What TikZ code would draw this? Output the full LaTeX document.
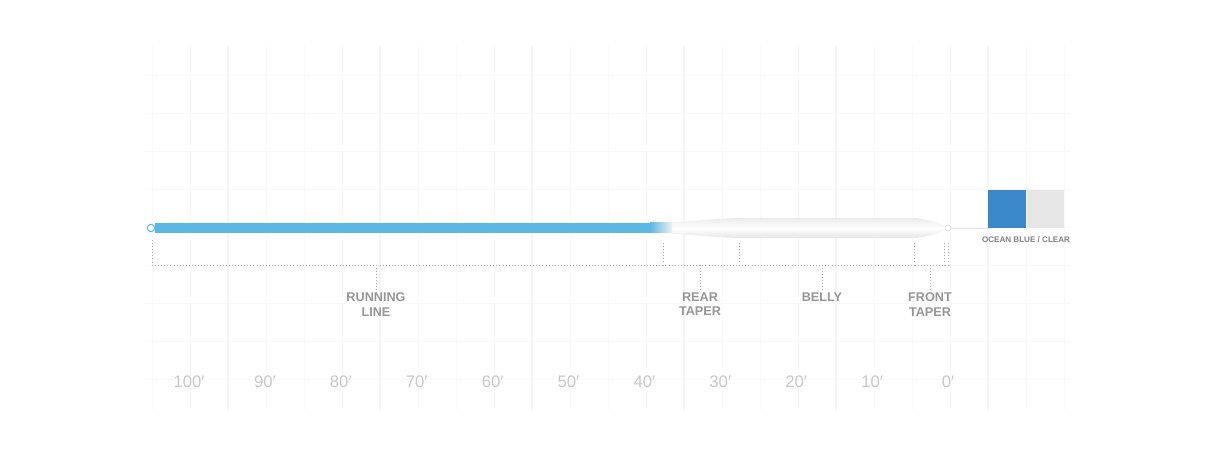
\documentclass[tikz,border=0pt]{standalone}
\usepackage{fontspec}
\setmainfont{Liberation Sans}
\usepackage{xcolor}
\usetikzlibrary{positioning,calc}
\pgfdeclarelayer{gridlayer}
\pgfdeclarelayer{edgelayer}
\pgfdeclarelayer{nodelayer}
\pgfsetlayers{gridlayer,edgelayer,main,nodelayer}
\definecolor{runblue}{RGB}{90,184,227}
\definecolor{oceanblue}{RGB}{58,135,201}
\definecolor{clearcol}{RGB}{230,230,230}
\definecolor{dimgray}{RGB}{172,172,172}
\definecolor{labgray}{RGB}{150,150,150}
\definecolor{ftgray}{RGB}{200,200,200}
\tikzstyle{minor grid}=[draw=black!2.5,line width=0.5pt]
\tikzstyle{major grid}=[draw=black!4,line width=0.6pt]
\tikzstyle{dim}=[draw=dimgray,line width=0.55pt,dash pattern=on 0.55pt off 1.2pt]
\tikzstyle{part}=[font=\bfseries\fontsize{7.2}{8.5}\selectfont,text=labgray,align=center,inner sep=0pt,anchor=north]
\tikzstyle{feet}=[font=\fontsize{9.5}{10}\selectfont,text=ftgray,inner sep=0pt]
\tikzstyle{swatch}=[minimum height=0.76cm,inner sep=0pt,outer sep=0pt,anchor=south west]
\tikzstyle{swatch label}=[font=\bfseries\fontsize{4.6}{5}\selectfont,text=labgray!85!black,inner sep=0pt]
\tikzstyle{tail loop}=[circle,draw=runblue,fill=white,line width=0.6pt,minimum size=0.15cm,inner sep=0pt]
\tikzstyle{tip loop}=[circle,draw=black!12,fill=white,line width=0.5pt,minimum size=0.12cm,inner sep=0pt]

\begin{document}
\begin{tikzpicture}[x=0.02cm,y=-0.02cm]
	\useasboundingbox (0,0) rectangle (1214,455);
	\begin{pgfonlayer}{gridlayer}
		\foreach \x in {152,190,...,1064}
			\draw[style=minor grid] (\x,45) -- (\x,410);
		\foreach \y in {75,113,...,379}
			\draw[style=minor grid] (145,\y) -- (1070,\y);
		\foreach \x in {228,380,...,988}
			\draw[style=major grid] (\x,45) -- (\x,410);
	\end{pgfonlayer}
	\begin{pgfonlayer}{nodelayer}
		\node [style=tail loop] (tail) at (151,228) {};
		\node [style=tip loop] (tip) at (948,228) {};
		\coordinate (lead) at (992,228);
		\node [style=swatch,fill=oceanblue,minimum width=0.76cm] (blue) at (988,228) {};
		\node [style=swatch,fill=clearcol,minimum width=0.74cm,right=0.02cm of blue.south east,anchor=south west] (clear) {};
		\node [style=swatch label] (colours) at (1026,240) {OCEAN BLUE / CLEAR};
		\node [style=part] (running) at (376,292) {RUNNING\\LINE};
		\node [style=part] (rear) at (700,292) {REAR\\TAPER};
		\node [style=part] (belly) at (822,292) {BELLY};
		\node [style=part] (front) at (930,292) {FRONT\\TAPER};
		\foreach \f [count=\i from 0] in {100,90,80,70,60,50,40,30,20,10,0}
			\node [style=feet] (ft\f) at (189+75.9*\i,382) {\f′};
	\end{pgfonlayer}
	\begin{pgfonlayer}{edgelayer}
		\draw[black!10,line width=0.5pt] (tip) to (lead);
		\shade[top color=black!8,bottom color=black!10,middle color=white]
			(660,223) .. controls (700,221) and (718,218) .. (745,218) -- (912,218)
			.. controls (928,218) and (937,224) .. (946,225.6) -- (946,230.4)
			.. controls (937,232) and (928,238) .. (912,238) -- (745,238)
			.. controls (718,238) and (700,235) .. (660,233) -- cycle;
		\draw[runblue,line width=0.2cm] (tail) to (652,228);
		\shade[left color=runblue,right color=black!6] (650,223) rectangle (672,233);
		\coordinate (base) at (0,265);
		\draw[style=dim] (152,265) to (948,265);
		\foreach \x/\t in {152/240,663/243,739/243,914/243,944/243,948/243}
			\draw[style=dim] (\x,\t) to (\x,265);
		\foreach \n in {running,rear,belly,front}
			\draw[style=dim] ($(\n.north)+(0,-2)$) to (\n.north |- base);
	\end{pgfonlayer}
\end{tikzpicture}
\end{document}
